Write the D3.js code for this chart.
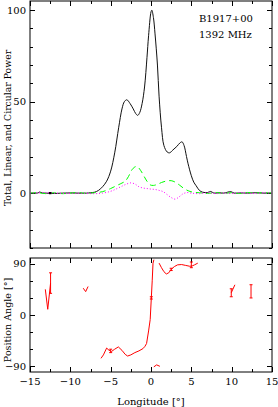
<!DOCTYPE html>
<html><head><meta charset="utf-8">
<script src="https://cdn.jsdelivr.net/npm/d3@7"></script>
<style>body{margin:0;background:#fff}svg{display:block}text{font-family:"DejaVu Serif",serif;font-size:10px;fill:#000}</style>
</head><body><svg id="c" width="278" height="407"></svg>
<script>
// ---- data ----
const totalLon = [-15,-14,-13.8,-13.5,-13,-12,-11,-10,-9,-8,-7.5,-7,-6.5,-6,-5.5,-5,-4.5,-4,-3.6,-3.3,-3,-2.6,-2.2,-1.9,-1.65,-1.4,-1.1,-0.8,-0.5,-0.3,0,0.1,0.3,0.5,0.8,1.0,1.3,1.6,2.0,2.3,2.7,3.2,3.6,3.85,4.1,4.4,4.6,5.0,5.3,5.6,6.0,6.4,7,7.4,7.8,8.5,9,9.9,10.3,11,12,13,14,15];
const totalVal = [0,0.1,0.6,0.1,0,-0.2,0,0.1,0,0,0.2,0.5,1.5,3.5,6.5,12,22,36,46,50,51,49,46,43.5,42.5,44,49,58,74,86,99,100,96,87,70,53,36,26,22.5,22,23.5,25.5,27.5,28,26,20,16,9.5,6,4,1.5,0.5,0.3,0.9,0,0.2,0,0.8,0,0.1,0,0.2,0,0];
const linLon = [-15,-14,-13,-12,-11,-10,-9,-8,-7,-6,-5,-4.3,-3.6,-3.2,-2.8,-2.4,-2.0,-1.7,-1.3,-0.9,-0.5,-0.1,0.3,0.8,1.3,1.9,2.5,3.0,3.5,4.0,4.6,5.2,6,7,8,9,10,11,12,13,14,15];
const linVal = [0,0.2,-0.3,0.2,-0.3,0,0.3,-0.2,0.2,0.8,2.5,4,5.5,6.5,9,12.5,14.3,14.5,12.5,9.5,6.5,4.5,4.2,4.8,5.8,6.6,6.8,6,4.5,2.8,1.3,0.5,0.2,-0.2,0.3,-0.2,0.2,-0.2,0.3,0,0.2,0];
const circLon = [-15,-13,-11,-9,-7,-6,-5,-4.2,-3.5,-3.0,-2.5,-2.0,-1.5,-1.0,-0.5,0,0.5,1.0,1.5,2.0,2.5,3.0,3.5,4.0,4.5,5,6,7,8,9,10,11,12,13,14,15];
const circVal = [0,0.2,-0.2,0,-0.3,0,1,2.5,4,5,5.6,5,3.5,2.8,2.5,2.2,2,1.5,0.8,-0.8,-2.4,-3.3,-2.0,-0.3,0.3,0,-0.3,0.2,-0.2,0,-0.2,0.2,0,-0.2,0.2,0];
const baseErrLon = [-12.5];
const baseErrVal = [0];
const baseErrSig = [0.6];
// position angle, null = break between segments
const paLon = [-13.1,-12.8,-12.45,null,-8.4,-8.1,-7.8,null,-6.2,-5.9,-5.5,-5.2,-4.9,-4.5,-4.05,-3.6,-3.2,-2.9,-2.5,-2.0,-1.5,-1.0,-0.75,-0.55,-0.3,-0.1,0.04,0.15,0.25,0.36,null,0.35,0.7,1.1,null,1.0,1.3,1.6,1.9,2.2,2.5,2.9,3.3,3.8,4.3,4.8,5.1,5.4,5.8,null,9.95,10.4];
const paVal = [45,10,56,null,47,41,50,null,-76,-70,-58,-62,-64,-60,-56,-62,-69,-72,-70,-66,-63,-59,-55,-50,-28,-8,30,60,91,97,null,-91,-87.5,-90,null,91,83,76,72,74,80,85,88,88.5,87,85.5,86,88,91,null,39,53];
const paErrLon = [-12.45,-5.0,0.04,2.5,5.0,9.95,12.4];
const paErrVal = [56,-63,30,80,88,39,41.5];
const paErrSig = [18,3,2,2,5,7,11.6];
const xTicksMajor = [-15,-10,-5,0,5,10,15];
const yTicksTop = [0,50,100];
const yTicksBot = [-90,0,90];
const labelSource = "B1917+00";
const labelFreq = "1392 MHz";

// ---- layout ----
const svg = d3.select("#c");
const L = 30, R = 272;
const x = d3.scaleLinear().domain([-15,15]).range([L,R]);
const yT = d3.scaleLinear().domain([-30,105]).range([248,1]);
const yB = d3.scaleLinear().domain([-100,100]).range([372,258]);

function frame(y, majY, minStep, labelsX){
  const [y0,y1] = y.range(); // bottom, top
  const g = svg.append("g");
  g.append("rect").attr("x",L).attr("y",y1).attr("width",R-L).attr("height",y0-y1)
   .attr("fill","none").attr("stroke","#000").attr("stroke-width",1);
  const xt = d3.range(-15,15.01,2.5);
  xt.forEach(v=>{
    const len = (Math.abs(v%5)<1e-6)?5:3;
    const px = Math.round(x(v))+0.5;
    g.append("line").attr("x1",px).attr("x2",px).attr("y1",y0).attr("y2",y0-len).attr("stroke","#000");
    g.append("line").attr("x1",px).attr("x2",px).attr("y1",y1).attr("y2",y1+len).attr("stroke","#000");
  });
  const [d0,d1] = y.domain();
  const yt = d3.range(Math.ceil(d0/minStep)*minStep, d1+1e-6, minStep);
  yt.forEach(v=>{
    const len = majY.includes(v)?5:3;
    const py = Math.round(y(v))+0.5;
    g.append("line").attr("x1",L).attr("x2",L+len).attr("y1",py).attr("y2",py).attr("stroke","#000");
    g.append("line").attr("x1",R).attr("x2",R-len).attr("y1",py).attr("y2",py).attr("stroke","#000");
  });
  majY.forEach(v=>{
    g.append("text").attr("x",L-4).attr("y",y(v)+3.5).attr("text-anchor","end")
     .text(v<0?"\u2212"+Math.abs(v):String(v));
  });
  if(labelsX){
    xTicksMajor.forEach(v=>{
      g.append("text").attr("x",x(v)).attr("y",y0+13).attr("text-anchor","middle")
       .text(v<0?"\u2212"+Math.abs(v):String(v));
    });
  }
}
frame(yT, yTicksTop, 10, false);
frame(yB, yTicksBot, 30, true);

const lineT = (lon,val)=> d3.line().x((d,i)=>x(lon[i])).y(d=>yT(d)).curve(d3.curveCatmullRom.alpha(0.5))(val);
svg.append("path").attr("d",lineT(totalLon,totalVal)).attr("fill","none").attr("stroke","#111").attr("stroke-width",1);
svg.append("path").attr("d",lineT(linLon,linVal)).attr("fill","none").attr("stroke","#00ff00").attr("stroke-width",1).attr("stroke-dasharray","6,4");
svg.append("path").attr("d",lineT(circLon,circVal)).attr("fill","none").attr("stroke","#ff00ff").attr("stroke-width",1).attr("stroke-dasharray","1,2");
baseErrLon.forEach((v,i)=>{
  svg.append("line").attr("x1",x(v)).attr("x2",x(v))
   .attr("y1",yT(baseErrVal[i]-baseErrSig[i])).attr("y2",yT(baseErrVal[i]+baseErrSig[i]))
   .attr("stroke","#000").attr("stroke-width",2.5);
});

// PA
const paPts = paLon.map((v,i)=>[v,paVal[i]]);
const paLine = d3.line().defined(d=>d[0]!==null).x(d=>x(d[0])).y(d=>yB(d[1])).curve(d3.curveLinear);
svg.append("path").attr("d",paLine(paPts)).attr("fill","none").attr("stroke","#ff0000").attr("stroke-width",1);
paErrLon.forEach((v,i)=>{
  const g = svg.append("g").attr("stroke","#ff0000").attr("stroke-width",1);
  const ya = yB(paErrVal[i]-paErrSig[i]), yb = yB(paErrVal[i]+paErrSig[i]);
  g.append("line").attr("x1",x(v)).attr("x2",x(v)).attr("y1",ya).attr("y2",yb);
  g.append("line").attr("x1",x(v)-1.5).attr("x2",x(v)+1.5).attr("y1",ya).attr("y2",ya);
  g.append("line").attr("x1",x(v)-1.5).attr("x2",x(v)+1.5).attr("y1",yb).attr("y2",yb);
});

// labels
svg.append("text").attr("x",199).attr("y",21.5).text(labelSource);
svg.append("text").attr("x",199).attr("y",37.5).text(labelFreq);
svg.append("text").attr("transform","translate(11,128) rotate(-90)").attr("text-anchor","middle").style("font-size","9.3px").text("Total, Linear, and Circular Power");
svg.append("text").attr("transform","translate(11,320) rotate(-90)").attr("text-anchor","middle").style("font-size","9.5px").text("Position Angle [\u00b0]");
svg.append("text").attr("x",(L+R)/2).attr("y",404.5).attr("text-anchor","middle").text("Longitude [\u00b0]");
</script></body></html>
